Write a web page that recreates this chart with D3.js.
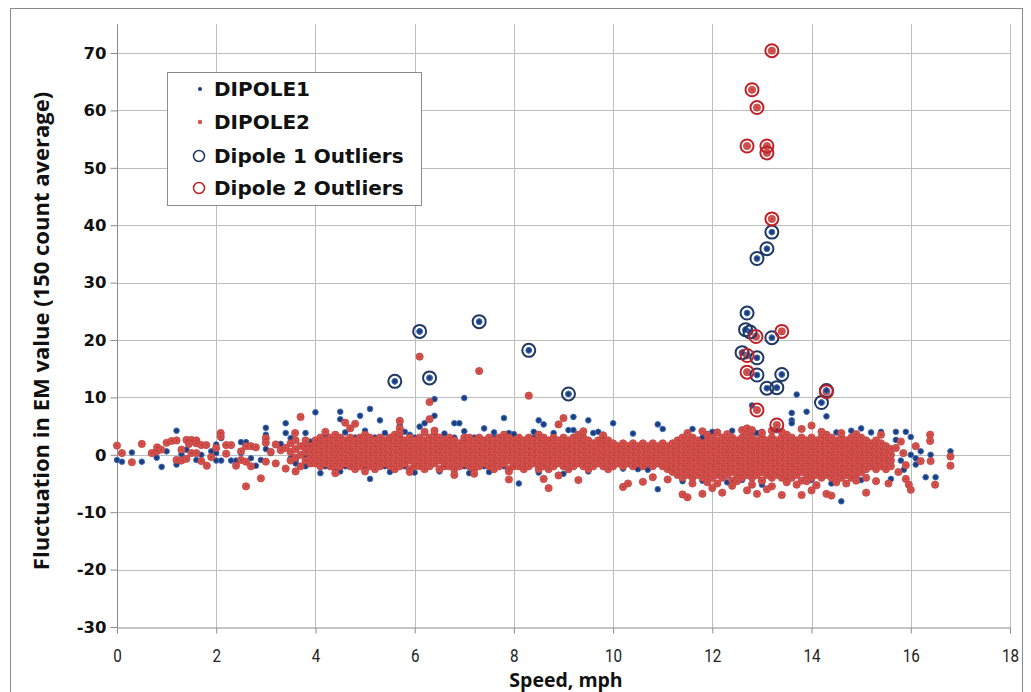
<!DOCTYPE html>
<html><head><meta charset="utf-8">
<script src="https://cdn.jsdelivr.net/npm/d3@7"></script>
<style>
html,body{margin:0;padding:0;background:#fff;}
svg{display:block;}
</style></head>
<body>
<svg id="chart" width="1031" height="692"></svg>
<script>
// ---------- DATA ----------
const xTicks = [0, 2, 4, 6, 8, 10, 12, 14, 16, 18];
const yTicks = [-30, -20, -10, 0, 10, 20, 30, 40, 50, 60, 70];
const xTitle = "Speed, mph";
const yTitle = "Fluctuation in EM value (150 count average)";
const seriesNames = ["DIPOLE1", "DIPOLE2", "Dipole 1 Outliers", "Dipole 2 Outliers"];

// DIPOLE2 dense band: [speed, values at that speed]
const dipole2Band = [
  [3.5, [-1, 0.5, 2]], [3.6, [-0.5, 1, 2.5]], [3.7, [-2, 0, 1.5]], [3.8, [-1, 0.5, 1.5, 2.5]],
  [3.9, [-1.5, -0.5, 0.5, 1.5]], [4.0, [-1.5, -0.5, 0.5, 1.5, 2.5]],
  [4.1, [-2, -1, 0, 1, 2, 3]], [4.2, [-1.5, -0.5, 0.5, 1.5, 2.5]], [4.3, [-2, -1, 0, 1, 2, 3]],
  [4.4, [-2.5, -1.5, -0.5, 0.5, 1.5, 2.5, 3.5]], [4.5, [-2, -1, 0, 1, 2, 3]], [4.6, [-1.5, -0.5, 0.5, 1.5, 2.5]],
  [4.7, [-2, -1, 0, 1, 2, 3]], [4.8, [-2.5, -1.5, -0.5, 0.5, 1.5, 2.5]], [4.9, [-2, -1, 0, 1, 2, 3]],
  [5.0, [-1.5, -0.5, 0.5, 1.5, 2.5, 3.5]], [5.1, [-2, -1, 0, 1, 2, 3]], [5.2, [-2.5, -1.5, -0.5, 0.5, 1.5, 2.5]],
  [5.3, [-2, -1, 0, 1, 2, 3]], [5.4, [-1.5, -0.5, 0.5, 1.5, 2.5]], [5.5, [-2, -1, 0, 1, 2, 3]],
  [5.6, [-2.5, -1.5, -0.5, 0.5, 1.5, 2.5, 3.5]], [5.7, [-2, -1, 0, 1, 2, 3]], [5.8, [-1.5, -0.5, 0.5, 1.5, 2.5]],
  [5.9, [-2.5, -1, 0, 1, 2, 3]], [6.0, [-2, -1.5, -0.5, 0.5, 1.5, 2.5]], [6.1, [-2, -1, 0, 1, 2, 3]],
  [6.2, [-2.5, -1.5, -0.5, 0.5, 1.5, 2.5]], [6.3, [-2, -1, 0, 1, 2, 3]], [6.4, [-1.5, -0.5, 0.5, 1.5, 2.5, 3.5]],
  [6.5, [-2.5, -1, 0, 1, 2, 3]], [6.6, [-2, -1.5, -0.5, 0.5, 1.5, 2.5]], [6.7, [-2, -1, 0, 1, 2, 3]],
  [6.8, [-2.5, -1.5, -0.5, 0.5, 1.5, 2.5]], [6.9, [-2, -1, 0, 1, 2]], [7.0, [-1.5, -0.5, 0.5, 1.5, 2.5, 3]],
  [7.1, [-2, -1, 0, 1, 2, 3]], [7.2, [-2.5, -1.5, -0.5, 0.5, 1.5, 2.5]], [7.3, [-2, -1, 0, 1, 2, 3]],
  [7.4, [-1.5, -0.5, 0.5, 1.5, 2.5]], [7.5, [-2, -1, 0, 1, 2, 3]], [7.6, [-2.5, -1.5, -0.5, 0.5, 1.5, 2.5]],
  [7.7, [-2, -1, 0, 1, 2, 3]], [7.8, [-1.5, -0.5, 0.5, 1.5, 2.5, 3.5]], [7.9, [-2.5, -1, 0, 1, 2, 3]],
  [8.0, [-2, -1.5, -0.5, 0.5, 1.5, 2.5]], [8.1, [-2, -1, 0, 1, 2, 3]], [8.2, [-2.5, -1.5, -0.5, 0.5, 1.5, 2.5]],
  [8.3, [-2, -1, 0, 1, 2, 3]], [8.4, [-1.5, -0.5, 0.5, 1.5, 2.5]], [8.5, [-2.5, -1.5, -0.5, 0.5, 1.5, 2.5, 3.5]],
  [8.6, [-2, -1, 0, 1, 2, 3]], [8.7, [-2.5, -1.5, -0.5, 0.5, 1.5, 2.5]], [8.8, [-2, -1, 0, 1, 2, 3]],
  [8.9, [-1.5, -0.5, 0.5, 1.5, 2.5]], [9.0, [-2, -1, 0, 1, 2, 3]], [9.1, [-2.5, -1.5, -0.5, 0.5, 1.5, 2.5]],
  [9.2, [-2, -1, 0, 1, 2, 3]], [9.3, [-1.5, -0.5, 0.5, 1.5, 2.5]], [9.4, [-2, -1, 0, 1, 2, 3]],
  [9.5, [-2.5, -1.5, -0.5, 0.5, 1.5, 2.5]], [9.6, [-2, -1, 0, 1, 2]], [9.7, [-1.5, -0.5, 0.5, 1.5, 2.5]],
  [9.8, [-2, -1, 0, 1, 2, 3]], [9.9, [-2.5, -1.5, -0.5, 0.5, 1.5, 2.5]], [10.0, [-2, -1, 0, 1, 2]],
  [10.1, [-1.5, -0.5, 0.5, 1.5]], [10.2, [-2, -1, 0, 1, 2]], [10.3, [-1.5, -0.5, 0.5, 1.5]],
  [10.4, [-2, -1, 0, 1, 2]], [10.5, [-1.5, -0.5, 0.5, 1.5]], [10.6, [-2, -1, 0, 1, 2]],
  [10.7, [-1.5, -0.5, 0.5, 1.5]], [10.8, [-2, -1, 0, 1, 2]], [10.9, [-1.5, -0.5, 0.5, 1.5]],
  [11.0, [-2, -1, 0, 1, 2]], [11.1, [-2.5, -1.5, -0.5, 0.5, 1.5]], [11.2, [-3, -2, -1, 0, 1, 2]],
  [11.3, [-3.5, -2.5, -1.5, -0.5, 0.5, 1.5, 2.5]], [11.4, [-4, -3, -2, -1, 0, 1, 2, 3]],
  [11.5, [-3.5, -2.5, -1.5, -0.5, 0.5, 1.5, 2.5]], [11.6, [-4, -3, -2, -1, 0, 1, 2, 3]],
  [11.7, [-3.5, -2.5, -1.5, -0.5, 0.5, 1.5, 2.5]], [11.8, [-4, -3, -2, -1, 0, 1, 2]],
  [11.9, [-3.5, -2.5, -1.5, -0.5, 0.5, 1.5, 2.5, 3.5]], [12.0, [-4, -3, -2, -1, 0, 1, 2, 3]],
  [12.1, [-3.5, -2.5, -1.5, -0.5, 0.5, 1.5, 2.5]], [12.2, [-4, -3, -2, -1, 0, 1, 2, 3]],
  [12.3, [-3.5, -2.5, -1.5, -0.5, 0.5, 1.5, 2.5]], [12.4, [-4.5, -3, -2, -1, 0, 1, 2, 3]],
  [12.5, [-3.5, -2.5, -1.5, -0.5, 0.5, 1.5, 2.5]], [12.6, [-4, -3, -2, -1, 0, 1, 2, 3]],
  [12.7, [-3.5, -2.5, -1.5, -0.5, 0.5, 1.5, 2.5, 3.5]], [12.8, [-4, -3, -2, -1, 0, 1, 2, 3]],
  [12.9, [-3.5, -2.5, -1.5, -0.5, 0.5, 1.5, 2.5]], [13.0, [-4.5, -3, -2, -1, 0, 1, 2, 3]],
  [13.1, [-3.5, -2.5, -1.5, -0.5, 0.5, 1.5, 2.5]], [13.2, [-4, -3, -2, -1, 0, 1, 2, 3]],
  [13.3, [-3.5, -2.5, -1.5, -0.5, 0.5, 1.5, 2.5]], [13.4, [-4, -3, -2, -1, 0, 1, 2, 3]],
  [13.5, [-3.5, -2.5, -1.5, -0.5, 0.5, 1.5, 2.5, 3.5]], [13.6, [-4, -3, -2, -1, 0, 1, 2, 3]],
  [13.7, [-3.5, -2.5, -1.5, -0.5, 0.5, 1.5, 2.5]], [13.8, [-4.5, -3, -2, -1, 0, 1, 2, 3]],
  [13.9, [-3.5, -2.5, -1.5, -0.5, 0.5, 1.5, 2.5]], [14.0, [-4, -3, -2, -1, 0, 1, 2, 3]],
  [14.1, [-3.5, -2.5, -1.5, -0.5, 0.5, 1.5, 2.5]], [14.2, [-4, -3, -2, -1, 0, 1, 2, 3]],
  [14.3, [-3.5, -2.5, -1.5, -0.5, 0.5, 1.5, 2.5, 3.5]], [14.4, [-4, -3, -2, -1, 0, 1, 2, 3]],
  [14.5, [-3.5, -2.5, -1.5, -0.5, 0.5, 1.5, 2.5]], [14.6, [-4, -3, -2, -1, 0, 1, 2, 3]],
  [14.7, [-3.5, -2.5, -1.5, -0.5, 0.5, 1.5, 2.5]], [14.8, [-4, -3, -2, -1, 0, 1, 2, 3]],
  [14.9, [-3.5, -2.5, -1.5, -0.5, 0.5, 1.5, 2.5]], [15.0, [-3, -2, -1, 0, 1, 2, 3]],
  [15.1, [-2.5, -1.5, -0.5, 0.5, 1.5, 2.5]], [15.2, [-2, -1, 0, 1, 2]], [15.3, [-2.5, -1.5, -0.5, 0.5, 1.5, 2.5]],
  [15.4, [-2, -1, 0, 1, 2]], [15.5, [-2.5, -1.5, -0.5, 0.5, 1.5]], [15.6, [-2, -1, 0, 1]]
];

// DIPOLE2 scattered readings: [speed, value]
const dipole2Points = [
  [0.0, 1.6], [0.1, 0.3], [0.3, -1.3], [0.5, 1.9], [0.7, 0.3], [0.8, 0.6], [0.81, 1.3], [0.89, 0.9],
  [1.0, 2.1], [1.1, 2.4], [1.2, 2.5], [1.3, 0.9], [1.2, -0.9], [1.3, -1.0], [1.4, -0.7], [1.4, 2.6],
  [1.5, 2.6], [1.6, 2.5], [1.45, 1.9], [1.6, 2.0], [1.7, 1.7], [1.8, 1.7], [1.5, 0.3], [1.6, 0.3],
  [1.81, -1.9], [1.7, -1.1], [1.9, -0.4], [2.0, 1.2], [2.09, 3.8], [2.09, 3.2], [2.2, 1.7], [2.3, 1.7],
  [2.4, -1.9], [2.5, -0.9], [2.6, -1.2], [2.7, -2.0], [2.6, -5.5], [2.9, -4.1], [2.6, 1.5], [2.7, 1.5],
  [2.8, 1.3], [3.0, 2.9], [3.0, 2.1], [3.0, -1.2], [3.2, -1.5], [3.4, -2.4], [3.59, 3.8], [3.7, 6.6],
  [3.8, 1.5], [3.6, -2.9], [3.1, 0.5], [3.3, 0.8], [3.2, 1.8], [3.4, 1.2], [2.5, 0.6], [2.2, 0.2],
  [4.6, 5.6], [4.7, 4.6], [4.8, 5.4], [5.7, 5.9], [5.7, 4.6], [5.7, 3.8], [6.3, 9.2], [6.3, 6.2],
  [6.4, 4.2], [6.1, 17.1], [7.3, 14.6], [8.3, 10.3], [8.9, 5.3], [9.0, 6.4], [9.3, 3.5], [9.4, 4.1],
  [5.9, -3.0], [7.9, -2.9], [7.9, -4.3], [8.6, -4.2], [8.7, -5.8], [8.9, -3.6], [9.3, -4.4], [4.4, -3.2],
  [6.8, -3.5], [7.2, -3.3], [5.0, -2.9], [6.2, 4.0], [4.2, 4.0], [9.8, 3.4], [10.2, -5.6], [10.3, -5.0],
  [10.6, -4.7], [10.8, -3.9], [11.1, -4.3], [11.4, -6.9], [11.5, -7.4], [11.8, -6.8], [12.0, -5.8],
  [12.2, -6.6], [12.4, -5.4], [12.7, -6.2], [12.9, -6.8], [13.4, -7.0], [13.8, -7.0], [14.3, -6.8],
  [14.4, -7.1], [15.1, -6.6], [15.1, -4.0], [11.6, -5.0], [11.9, -4.8], [12.1, -5.0], [12.5, -4.6],
  [12.8, -5.2], [13.0, -4.5], [13.2, -5.5], [13.5, -4.8], [13.7, -5.2], [13.9, -4.6], [14.1, -5.3],
  [14.5, -4.8], [14.7, -5.0], [14.9, -4.5], [15.3, -4.6], [13.1, -6.0], [14.0, -6.2], [11.5, 3.8],
  [11.8, 4.1], [12.1, 3.9], [12.3, 3.6], [13.8, 4.5], [14.0, 5.1], [14.2, 4.0], [14.6, 3.8], [14.9, 3.6],
  [15.4, 3.5], [12.6, 4.3], [12.7, 4.6], [12.8, 4.3], [13.0, 3.8], [13.2, 4.2], [13.4, 4.0],
  [15.8, 2.3], [15.85, 0.3], [16.2, -1.1], [16.4, -1.1], [16.39, 3.5], [16.39, 2.4], [16.8, -0.3],
  [16.8, -1.9], [16.49, -5.2], [15.55, -5.0], [15.9, -4.2], [15.96, -5.2], [16.0, -6.1], [15.7, 1.2],
  [15.9, -1.8], [16.1, 1.5], [15.75, -3.0]
];

// DIPOLE1 band (under DIPOLE2): [speed, values]
const dipole1Band = [
  [3.6, [-1, 1]], [3.8, [-2, 0, 2]], [4.0, [-1.5, 0.5, 2.5]], [4.2, [-2, 0, 2]], [4.4, [-1, 1, 3]],
  [4.6, [-2, 0, 2]], [4.8, [-1, 1, 3]], [5.0, [-2, 0, 2]], [5.2, [-1, 1, 3]], [5.4, [-2, 0, 2]],
  [5.6, [-1, 1, 3]], [5.8, [-2, 0, 2]], [6.0, [-1, 1, 3]], [6.2, [-2, 0, 2]], [6.4, [-1, 1, 3]],
  [6.6, [-2, 0, 2]], [6.8, [-1, 1, 3]], [7.0, [-2, 0, 2]], [7.2, [-1, 1, 3]], [7.4, [-2, 0, 2]],
  [7.6, [-1, 1, 3]], [7.8, [-2, 0, 2]], [8.0, [-1, 1, 3]], [8.2, [-2, 0, 2]], [8.4, [-1, 1, 3]],
  [8.6, [-2, 0, 2]], [8.8, [-1, 1, 3]], [9.0, [-2, 0, 2]], [9.2, [-1, 1, 3]], [9.4, [-2, 0, 2]],
  [9.6, [-1, 1]], [9.8, [-2, 0, 2]], [10.0, [-1, 1]], [10.2, [-2, 0, 2]], [10.4, [-1, 1]],
  [10.6, [-2, 0, 2]], [10.8, [-1, 1]], [11.0, [-2, 0, 2]], [11.2, [-3, -1, 1]], [11.4, [-3, -1, 1, 3]],
  [11.6, [-2, 0, 2]], [11.8, [-3, -1, 1, 3]], [12.0, [-2, 0, 2]], [12.2, [-3, -1, 1, 3]], [12.4, [-2, 0, 2]],
  [12.6, [-3, -1, 1, 3]], [12.8, [-2, 0, 2]], [13.0, [-3, -1, 1, 3]], [13.2, [-2, 0, 2]], [13.4, [-3, -1, 1, 3]],
  [13.6, [-2, 0, 2]], [13.8, [-3, -1, 1, 3]], [14.0, [-2, 0, 2]], [14.2, [-3, -1, 1, 3]], [14.4, [-2, 0, 2]],
  [14.6, [-3, -1, 1, 3]], [14.8, [-2, 0, 2]], [15.0, [-3, -1, 1, 3]], [15.2, [-2, 0, 2]], [15.4, [-1, 1]]
];

// DIPOLE1 scattered readings: [speed, value]
const dipole1Points = [
  [0.0, -0.9], [0.1, -1.2], [0.3, 0.4], [0.5, -1.2], [0.8, -0.5], [0.9, -2.1], [1.0, 0.6], [1.2, 4.2],
  [1.2, -1.7], [1.3, 0.1], [1.4, 0.9], [1.6, -0.9], [1.7, 0.0], [1.9, 0.6], [2.0, 0.3], [2.0, 1.8],
  [2.0, -1.0], [2.1, -1.0], [2.1, 2.9], [2.3, -1.0], [2.4, -1.0], [2.5, 2.2], [2.6, 2.2], [2.5, 0.3],
  [2.7, -0.6], [2.8, -1.9], [2.9, -0.9], [3.0, 4.7], [3.0, 3.5], [3.0, 1.0], [3.1, 0.3], [3.3, 1.9],
  [3.4, 5.5], [3.4, 3.8], [3.5, 2.9], [3.5, -0.6], [3.6, -1.5], [3.8, 3.8], [4.0, 7.4], [3.9, 2.3],
  [4.0, 2.0], [4.5, 7.5], [4.5, 6.2], [4.9, 6.8], [5.1, 8.0], [5.3, 6.0], [5.7, 6.0], [5.7, 5.1],
  [5.9, 3.5], [6.1, 4.9], [6.2, 5.5], [6.2, 3.8], [6.4, 6.8], [6.8, 5.5], [6.9, 5.5], [7.4, 4.6],
  [7.8, 6.4], [7.9, 3.8], [7.0, 9.9], [6.4, 9.7], [8.5, 6.0], [8.6, 5.3], [9.2, 6.6], [9.5, 6.0],
  [9.1, 4.3], [5.1, -4.2], [4.1, -3.2], [8.1, -5.0], [4.2, 3.6], [4.6, 3.9], [5.0, 4.2], [5.4, 3.8],
  [5.8, 4.0], [6.6, 3.7], [7.0, 4.1], [7.6, 3.9], [8.0, 3.6], [8.4, 4.0], [8.8, 3.8], [9.2, 4.3],
  [9.6, 3.8], [9.7, 4.0], [10.4, 3.7], [10.9, 5.3], [11.0, 4.5], [10.0, 5.5], [4.5, -2.9], [5.5, -3.0],
  [6.0, -3.1], [6.5, -2.9], [7.1, -3.2], [7.5, -3.0], [8.5, -3.1], [9.0, -3.3], [9.5, -2.9], [10.2, -2.4],
  [10.5, -2.5], [10.9, -6.0], [10.7, -2.6], [11.4, -4.6], [12.8, 3.8], [12.9, 3.8], [13.6, 7.3],
  [13.9, 7.5], [14.3, 6.7], [13.6, 6.0], [13.7, 10.5], [13.6, 5.5], [12.8, 8.6], [15.0, 4.6], [15.4, 4.0],
  [15.7, 4.0], [15.9, 4.0], [14.6, -8.1], [16.1, -0.6], [16.2, 0.6], [16.0, 0.0], [15.86, -2.6],
  [16.1, -1.7], [16.4, 0.0], [16.5, -3.9], [16.3, -3.9], [16.8, 0.6], [15.6, -4.2], [11.6, 4.5],
  [12.0, 4.0], [12.4, 4.2], [13.0, 4.0], [13.3, 4.3], [14.5, 3.9], [14.8, 4.2], [15.2, 3.9],
  [11.8, -4.5], [12.3, -4.8], [12.6, -4.4], [13.0, -5.2], [13.5, -4.6], [14.0, -4.4], [14.4, -5.0],
  [15.0, -4.4], [15.7, 2.6], [15.8, -1.0], [16.0, 3.1]
];

// Outliers (points that are also in each series, drawn with rings)
const dipole1Outliers = [
  [5.6, 12.8], [6.1, 21.5], [6.3, 13.4], [7.3, 23.2], [8.3, 18.2], [9.1, 10.6], [13.2, 38.8],
  [13.1, 35.9], [12.9, 34.2], [12.7, 24.7], [12.67, 21.8], [12.76, 21.4], [13.2, 20.4], [12.6, 17.8],
  [12.9, 16.9], [12.9, 13.9], [13.4, 14.0], [13.1, 11.6], [13.3, 11.7], [14.3, 11.2], [14.2, 9.1]
];
const dipole2Outliers = [
  [13.2, 70.4], [12.8, 63.6], [12.9, 60.5], [12.7, 53.8], [13.1, 53.8], [13.1, 52.6], [13.2, 41.1],
  [12.88, 20.6], [13.4, 21.5], [12.7, 17.3], [12.7, 14.4], [14.3, 11.0], [12.9, 7.8], [13.3, 5.2]
];

// ---------- DRAW ----------
const svg = d3.select("#chart");
const x = d3.scaleLinear().domain([0, 18]).range([117, 1010]);
const y = d3.scaleLinear().domain([-30, 70]).range([627, 53]);
const yTop = y(75);

const C = {
  grid: "#bdbdbd", axis: "#8a8a8a",
  blueFill: "#1d3d7c", blueStroke: "#3f6fbd",
  redFill: "#d4534f", redStroke: "#c33f3b", redCore: "#a8292a",
  blueRing: "#1f3864", redRing: "#c0202a"
};

// chart frame
svg.append("rect").attr("x", 10.5).attr("y", 8.5).attr("width", 1012).attr("height", 700)
  .attr("fill", "#fff").attr("stroke", "#8c8c8c").attr("stroke-width", 1);

// gridlines
svg.append("g").selectAll("line").data(xTicks.filter(d => d > 0)).join("line")
  .attr("x1", d => Math.round(x(d)) + 0.5).attr("x2", d => Math.round(x(d)) + 0.5)
  .attr("y1", yTop).attr("y2", y(-30)).attr("stroke", C.grid).attr("stroke-width", 1);
svg.append("g").selectAll("line").data(yTicks.filter(d => d > -30)).join("line")
  .attr("x1", x(0)).attr("x2", x(18))
  .attr("y1", d => Math.round(y(d)) + 0.5).attr("y2", d => Math.round(y(d)) + 0.5)
  .attr("stroke", C.grid).attr("stroke-width", 1);

// axes
const xAxis = d3.axisBottom(x).tickValues(xTicks).tickSize(6).tickSizeOuter(0).tickFormat(d => String(d));
const gx = svg.append("g").attr("transform", `translate(0,${Math.round(y(-30)) + 0.5})`).call(xAxis);
gx.select(".domain").attr("stroke", C.axis);
gx.selectAll(".tick line").attr("stroke", C.axis);
gx.selectAll(".tick text").attr("y", 0).attr("dy", 0)
  .attr("transform", "translate(0,34) scale(0.8,1)")
  .style("font-family", 'Roboto, "Liberation Sans", sans-serif')
  .style("font-size", "19px").attr("fill", "#222");

const yAxis = d3.axisLeft(y).tickValues(yTicks).tickSize(7).tickSizeOuter(0).tickFormat(d => String(d));
const gy = svg.append("g").attr("transform", `translate(${Math.round(x(0)) + 0.5},0)`).call(yAxis);
gy.select(".domain").attr("d", `M0,${yTop}V${y(-30)}`).attr("stroke", C.axis);
gy.selectAll(".tick line").attr("stroke", C.axis);
gy.selectAll(".tick text").attr("x", -11)
  .style("font-family", '"DejaVu Sans", Verdana, sans-serif').style("font-weight", "bold")
  .style("font-size", "16.5px").attr("fill", "#111");

// axis titles
svg.append("text").attr("x", 566).attr("y", 686.5).attr("text-anchor", "middle")
  .style("font-family", '"Open Sans", sans-serif').style("font-weight", "bold").style("font-size", "19.5px")
  .attr("fill", "#111").text(xTitle);
svg.append("text").attr("transform", `translate(49,${331}) rotate(-90)`).attr("text-anchor", "middle")
  .style("font-family", '"Open Sans", sans-serif').style("font-weight", "bold").style("font-size", "22px")
  .attr("fill", "#111").text(yTitle);

// series data
const d1 = dipole1Band.flatMap(([s, vs]) => vs.map(v => [s, v])).concat(dipole1Points, dipole1Outliers);
const d2 = dipole2Band.flatMap(([s, vs]) => vs.map(v => [s, v])).concat(dipole2Points, dipole2Outliers);

svg.append("g").selectAll("circle").data(d1).join("circle")
  .attr("cx", d => x(d[0])).attr("cy", d => y(d[1])).attr("r", 2.8)
  .attr("fill", C.blueFill).attr("stroke", C.blueStroke).attr("stroke-width", 1);
const g2 = svg.append("g");
g2.selectAll("circle.m").data(d2).join("circle").attr("class", "m")
  .attr("cx", d => x(d[0])).attr("cy", d => y(d[1])).attr("r", 3.6)
  .attr("fill", C.redFill).attr("stroke", C.redStroke).attr("stroke-width", 0.8);
g2.selectAll("circle.c").data(d2).join("circle").attr("class", "c")
  .attr("cx", d => x(d[0])).attr("cy", d => y(d[1])).attr("r", 1)
  .attr("fill", C.redCore).attr("opacity", 0.55);
// dot of dipole1 outliers shows inside its ring
svg.append("g").selectAll("circle").data(dipole1Outliers).join("circle")
  .attr("cx", d => x(d[0])).attr("cy", d => y(d[1])).attr("r", 2.8)
  .attr("fill", C.blueFill).attr("stroke", C.blueStroke).attr("stroke-width", 1);

// outlier rings
svg.append("g").selectAll("circle").data(dipole1Outliers).join("circle")
  .attr("cx", d => x(d[0])).attr("cy", d => y(d[1])).attr("r", 6.5)
  .attr("fill", "none").attr("stroke", C.blueRing).attr("stroke-width", 2);
svg.append("g").selectAll("circle").data(dipole2Outliers).join("circle")
  .attr("cx", d => x(d[0])).attr("cy", d => y(d[1])).attr("r", 6.5)
  .attr("fill", "none").attr("stroke", C.redRing).attr("stroke-width", 2);

// legend
const lg = svg.append("g");
lg.append("rect").attr("x", 167.5).attr("y", 72.5).attr("width", 254).attr("height", 133)
  .attr("fill", "#fff").attr("stroke", "#8c8c8c").attr("stroke-width", 1);
const rows = [89, 122, 156, 188];
seriesNames.forEach((name, i) => {
  const cy = rows[i];
  if (i === 0) lg.append("circle").attr("cx", 200).attr("cy", cy).attr("r", 2).attr("fill", C.blueFill);
  if (i === 1) lg.append("circle").attr("cx", 200).attr("cy", cy).attr("r", 2.2).attr("fill", C.redFill);
  if (i === 2) lg.append("circle").attr("cx", 199).attr("cy", cy).attr("r", 5.5).attr("fill", "none").attr("stroke", C.blueRing).attr("stroke-width", 1.5);
  if (i === 3) lg.append("circle").attr("cx", 199).attr("cy", cy).attr("r", 5.5).attr("fill", "none").attr("stroke", C.redRing).attr("stroke-width", 1.5);
  lg.append("text").attr("x", 214).attr("y", cy).attr("dy", "0.36em")
    .style("font-family", '"DejaVu Sans", Verdana, sans-serif').style("font-weight", "bold")
    .style("font-size", "20px").attr("fill", "#111").text(name);
});
</script>
</body></html>
